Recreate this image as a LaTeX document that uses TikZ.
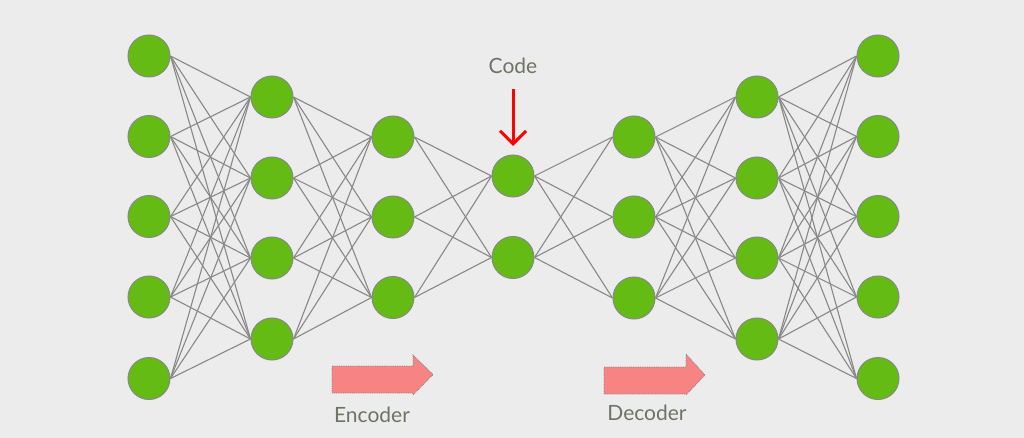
\documentclass[tikz,border=0pt]{standalone}
\usepackage{fontspec}
\setmainfont{Lato}
\usetikzlibrary{arrows.meta}
\definecolor{bg}{HTML}{ECECEC}
\definecolor{nodegreen}{HTML}{64BB14}
\definecolor{edgegray}{HTML}{888888}
\definecolor{txtgray}{HTML}{6E7464}
\definecolor{arrowpink}{HTML}{F78383}
\pgfdeclarelayer{bglayer}
\pgfdeclarelayer{edgelayer}
\pgfsetlayers{bglayer,edgelayer,main}
\tikzset{
  neuron/.style={circle, fill=nodegreen, draw=edgegray, line width=1pt, minimum size=42pt, inner sep=0pt},
  conn/.style={draw=edgegray, line width=1.1pt},
  lbl/.style={text=txtgray, font=\fontsize{21}{24}\selectfont},
  bigarrow/.style={fill=arrowpink, draw=edgegray, densely dotted, line width=0.8pt},
}
\begin{document}
\begin{tikzpicture}[x=1pt,y=-1pt]
\begin{pgfonlayer}{bglayer}
\fill[bg] (0,0) rectangle (1024,438);
\end{pgfonlayer}
\useasboundingbox (0,0) rectangle (1024,438);
% layers
\foreach \i/\y in {1/56,2/136.5,3/216.5,4/297,5/378.5} {\node[neuron] (a\i) at (149,\y) {};}
\foreach \i/\y in {1/97,2/178,3/258,4/339} {\node[neuron] (b\i) at (272,\y) {};}
\foreach \i/\y in {1/137,2/217,3/297.5} {\node[neuron] (c\i) at (393,\y) {};}
\foreach \i/\y in {1/176,2/257.5} {\node[neuron] (d\i) at (513,\y) {};}
\foreach \i/\y in {1/137,2/217,3/298} {\node[neuron] (e\i) at (634,\y) {};}
\foreach \i/\y in {1/97,2/178,3/258,4/339} {\node[neuron] (f\i) at (757,\y) {};}
\foreach \i/\y in {1/56,2/136.5,3/216.5,4/297,5/378.5} {\node[neuron] (g\i) at (878,\y) {};}
% connections
\begin{pgfonlayer}{edgelayer}
\foreach \i in {1,...,5} \foreach \j in {1,...,4} {\draw[conn] (a\i.east) -- (b\j.west);}
\foreach \i in {1,...,4} \foreach \j in {1,...,3} {\draw[conn] (b\i.east) -- (c\j.west);}
\foreach \i in {1,...,3} \foreach \j in {1,...,2} {\draw[conn] (c\i.east) -- (d\j.west);}
\foreach \i in {1,...,2} \foreach \j in {1,...,3} {\draw[conn] (d\i.east) -- (e\j.west);}
\foreach \i in {1,...,3} \foreach \j in {1,...,4} {\draw[conn] (e\i.east) -- (f\j.west);}
\foreach \i in {1,...,4} \foreach \j in {1,...,5} {\draw[conn] (f\i.east) -- (g\j.west);}
\end{pgfonlayer}
% code label and arrow
\node[lbl] (code) at (513,66) {Code};
\coordinate (codetip) at (513,146);
\coordinate (codestart) at (513,89);
\draw[red, line width=3pt, -{Straight Barb[length=13pt,width=26pt,line width=3pt]}] (codestart) -- (codetip);
% encoder arrow
\draw[bigarrow] (332,366) -- (413,366) -- (413,355) -- (433,374.5) -- (413,395) -- (413,393) -- (332,393) -- cycle;
\node[lbl] (enc) at (372,415) {Encoder};
% decoder arrow
\draw[bigarrow] (604,367) -- (686,367) -- (686,354) -- (705,375) -- (686,395) -- (686,394) -- (604,394) -- cycle;
\node[lbl] (dec) at (647,413) {Decoder};
\end{tikzpicture}
\end{document}
